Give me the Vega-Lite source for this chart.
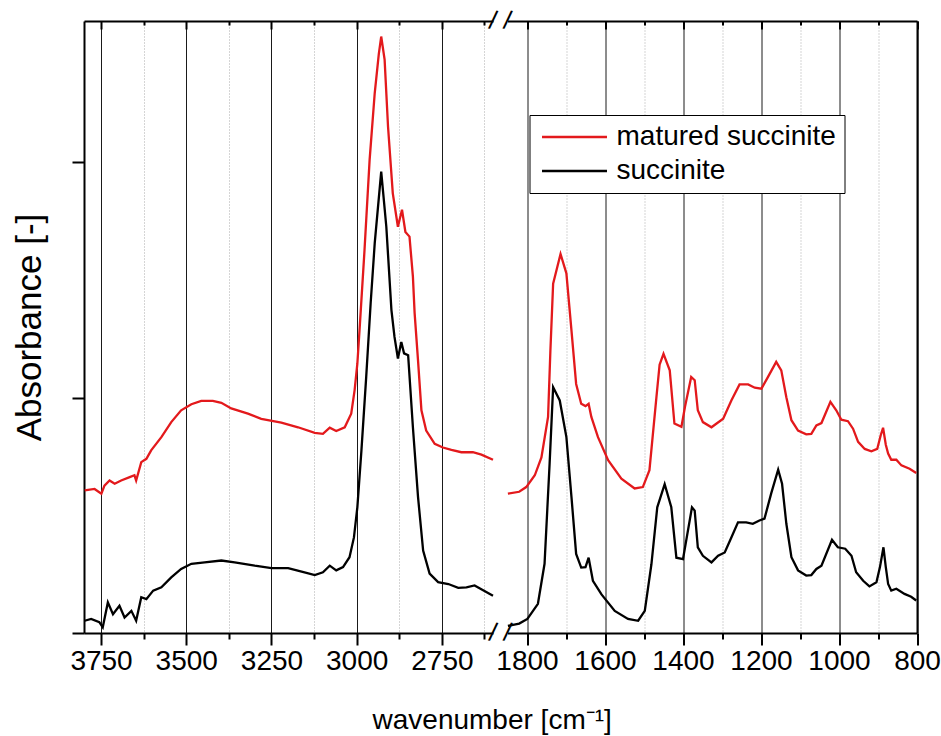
{
  "$schema": "https://vega.github.io/schema/vega-lite/v6.json",
  "background": "white",
  "padding": {"left": 12, "top": 7, "right": 20, "bottom": 5},
  "config": {
    "view": {"stroke": null},
    "font": "Liberation Sans",
    "axis": {"labelFont": "Liberation Sans", "titleFont": "Liberation Sans", "titleFontWeight": "normal", "labelColor": "black", "titleColor": "black", "domainColor": "black", "tickColor": "black"}
  },
  "title": {"text": "wavenumber [cm⁻¹]", "orient": "bottom", "anchor": "middle", "fontSize": 28, "font": "Liberation Sans", "fontWeight": "normal", "color": "black", "offset": 32, "dx": 16},
  "spacing": 14.5,
  "bounds": "flush",
  "resolve": {"legend": {"color": "independent"}},
  "datasets": {
    "spectra": [
      {"wavenumber": 3798, "absorbance": 0.303, "sample": "matured succinite"},
      {"wavenumber": 3769, "absorbance": 0.306, "sample": "matured succinite"},
      {"wavenumber": 3749, "absorbance": 0.296, "sample": "matured succinite"},
      {"wavenumber": 3740, "absorbance": 0.313, "sample": "matured succinite"},
      {"wavenumber": 3725, "absorbance": 0.324, "sample": "matured succinite"},
      {"wavenumber": 3710, "absorbance": 0.317, "sample": "matured succinite"},
      {"wavenumber": 3691, "absorbance": 0.324, "sample": "matured succinite"},
      {"wavenumber": 3666, "absorbance": 0.331, "sample": "matured succinite"},
      {"wavenumber": 3652, "absorbance": 0.335, "sample": "matured succinite"},
      {"wavenumber": 3647, "absorbance": 0.324, "sample": "matured succinite"},
      {"wavenumber": 3632, "absorbance": 0.363, "sample": "matured succinite"},
      {"wavenumber": 3617, "absorbance": 0.370, "sample": "matured succinite"},
      {"wavenumber": 3603, "absorbance": 0.388, "sample": "matured succinite"},
      {"wavenumber": 3573, "absorbance": 0.416, "sample": "matured succinite"},
      {"wavenumber": 3544, "absorbance": 0.448, "sample": "matured succinite"},
      {"wavenumber": 3515, "absorbance": 0.473, "sample": "matured succinite"},
      {"wavenumber": 3485, "absorbance": 0.486, "sample": "matured succinite"},
      {"wavenumber": 3456, "absorbance": 0.493, "sample": "matured succinite"},
      {"wavenumber": 3422, "absorbance": 0.493, "sample": "matured succinite"},
      {"wavenumber": 3397, "absorbance": 0.489, "sample": "matured succinite"},
      {"wavenumber": 3368, "absorbance": 0.477, "sample": "matured succinite"},
      {"wavenumber": 3319, "absorbance": 0.466, "sample": "matured succinite"},
      {"wavenumber": 3280, "absorbance": 0.455, "sample": "matured succinite"},
      {"wavenumber": 3221, "absorbance": 0.447, "sample": "matured succinite"},
      {"wavenumber": 3172, "absorbance": 0.437, "sample": "matured succinite"},
      {"wavenumber": 3123, "absorbance": 0.425, "sample": "matured succinite"},
      {"wavenumber": 3099, "absorbance": 0.423, "sample": "matured succinite"},
      {"wavenumber": 3079, "absorbance": 0.436, "sample": "matured succinite"},
      {"wavenumber": 3060, "absorbance": 0.429, "sample": "matured succinite"},
      {"wavenumber": 3035, "absorbance": 0.437, "sample": "matured succinite"},
      {"wavenumber": 3016, "absorbance": 0.466, "sample": "matured succinite"},
      {"wavenumber": 3006, "absorbance": 0.516, "sample": "matured succinite"},
      {"wavenumber": 2998, "absorbance": 0.572, "sample": "matured succinite"},
      {"wavenumber": 2991, "absorbance": 0.650, "sample": "matured succinite"},
      {"wavenumber": 2977, "absorbance": 0.813, "sample": "matured succinite"},
      {"wavenumber": 2962, "absorbance": 1.005, "sample": "matured succinite"},
      {"wavenumber": 2947, "absorbance": 1.147, "sample": "matured succinite"},
      {"wavenumber": 2935, "absorbance": 1.230, "sample": "matured succinite"},
      {"wavenumber": 2928, "absorbance": 1.267, "sample": "matured succinite"},
      {"wavenumber": 2918, "absorbance": 1.218, "sample": "matured succinite"},
      {"wavenumber": 2908, "absorbance": 1.076, "sample": "matured succinite"},
      {"wavenumber": 2894, "absorbance": 0.934, "sample": "matured succinite"},
      {"wavenumber": 2879, "absorbance": 0.863, "sample": "matured succinite"},
      {"wavenumber": 2867, "absorbance": 0.899, "sample": "matured succinite"},
      {"wavenumber": 2857, "absorbance": 0.852, "sample": "matured succinite"},
      {"wavenumber": 2845, "absorbance": 0.842, "sample": "matured succinite"},
      {"wavenumber": 2835, "absorbance": 0.757, "sample": "matured succinite"},
      {"wavenumber": 2830, "absorbance": 0.680, "sample": "matured succinite"},
      {"wavenumber": 2820, "absorbance": 0.579, "sample": "matured succinite"},
      {"wavenumber": 2810, "absorbance": 0.473, "sample": "matured succinite"},
      {"wavenumber": 2796, "absorbance": 0.430, "sample": "matured succinite"},
      {"wavenumber": 2771, "absorbance": 0.402, "sample": "matured succinite"},
      {"wavenumber": 2747, "absorbance": 0.394, "sample": "matured succinite"},
      {"wavenumber": 2722, "absorbance": 0.389, "sample": "matured succinite"},
      {"wavenumber": 2693, "absorbance": 0.384, "sample": "matured succinite"},
      {"wavenumber": 2659, "absorbance": 0.384, "sample": "matured succinite"},
      {"wavenumber": 2634, "absorbance": 0.379, "sample": "matured succinite"},
      {"wavenumber": 2600, "absorbance": 0.368, "sample": "matured succinite"},
      {"wavenumber": 3798, "absorbance": 0.026, "sample": "succinite"},
      {"wavenumber": 3779, "absorbance": 0.030, "sample": "succinite"},
      {"wavenumber": 3755, "absorbance": 0.023, "sample": "succinite"},
      {"wavenumber": 3745, "absorbance": 0.012, "sample": "succinite"},
      {"wavenumber": 3730, "absorbance": 0.065, "sample": "succinite"},
      {"wavenumber": 3715, "absorbance": 0.040, "sample": "succinite"},
      {"wavenumber": 3696, "absorbance": 0.058, "sample": "succinite"},
      {"wavenumber": 3681, "absorbance": 0.033, "sample": "succinite"},
      {"wavenumber": 3661, "absorbance": 0.047, "sample": "succinite"},
      {"wavenumber": 3647, "absorbance": 0.026, "sample": "succinite"},
      {"wavenumber": 3632, "absorbance": 0.076, "sample": "succinite"},
      {"wavenumber": 3617, "absorbance": 0.072, "sample": "succinite"},
      {"wavenumber": 3597, "absorbance": 0.090, "sample": "succinite"},
      {"wavenumber": 3573, "absorbance": 0.097, "sample": "succinite"},
      {"wavenumber": 3544, "absorbance": 0.118, "sample": "succinite"},
      {"wavenumber": 3515, "absorbance": 0.136, "sample": "succinite"},
      {"wavenumber": 3485, "absorbance": 0.147, "sample": "succinite"},
      {"wavenumber": 3446, "absorbance": 0.150, "sample": "succinite"},
      {"wavenumber": 3397, "absorbance": 0.154, "sample": "succinite"},
      {"wavenumber": 3358, "absorbance": 0.150, "sample": "succinite"},
      {"wavenumber": 3299, "absorbance": 0.143, "sample": "succinite"},
      {"wavenumber": 3250, "absorbance": 0.138, "sample": "succinite"},
      {"wavenumber": 3201, "absorbance": 0.138, "sample": "succinite"},
      {"wavenumber": 3153, "absorbance": 0.129, "sample": "succinite"},
      {"wavenumber": 3123, "absorbance": 0.123, "sample": "succinite"},
      {"wavenumber": 3099, "absorbance": 0.129, "sample": "succinite"},
      {"wavenumber": 3079, "absorbance": 0.143, "sample": "succinite"},
      {"wavenumber": 3060, "absorbance": 0.133, "sample": "succinite"},
      {"wavenumber": 3040, "absorbance": 0.140, "sample": "succinite"},
      {"wavenumber": 3021, "absorbance": 0.161, "sample": "succinite"},
      {"wavenumber": 3008, "absorbance": 0.203, "sample": "succinite"},
      {"wavenumber": 2998, "absorbance": 0.267, "sample": "succinite"},
      {"wavenumber": 2986, "absorbance": 0.388, "sample": "succinite"},
      {"wavenumber": 2972, "absorbance": 0.544, "sample": "succinite"},
      {"wavenumber": 2959, "absorbance": 0.700, "sample": "succinite"},
      {"wavenumber": 2947, "absorbance": 0.828, "sample": "succinite"},
      {"wavenumber": 2928, "absorbance": 0.980, "sample": "succinite"},
      {"wavenumber": 2913, "absorbance": 0.863, "sample": "succinite"},
      {"wavenumber": 2898, "absorbance": 0.686, "sample": "succinite"},
      {"wavenumber": 2889, "absorbance": 0.629, "sample": "succinite"},
      {"wavenumber": 2879, "absorbance": 0.583, "sample": "succinite"},
      {"wavenumber": 2869, "absorbance": 0.618, "sample": "succinite"},
      {"wavenumber": 2861, "absorbance": 0.594, "sample": "succinite"},
      {"wavenumber": 2849, "absorbance": 0.590, "sample": "succinite"},
      {"wavenumber": 2835, "absorbance": 0.437, "sample": "succinite"},
      {"wavenumber": 2820, "absorbance": 0.289, "sample": "succinite"},
      {"wavenumber": 2805, "absorbance": 0.175, "sample": "succinite"},
      {"wavenumber": 2786, "absorbance": 0.126, "sample": "succinite"},
      {"wavenumber": 2761, "absorbance": 0.108, "sample": "succinite"},
      {"wavenumber": 2731, "absorbance": 0.104, "sample": "succinite"},
      {"wavenumber": 2702, "absorbance": 0.096, "sample": "succinite"},
      {"wavenumber": 2678, "absorbance": 0.097, "sample": "succinite"},
      {"wavenumber": 2654, "absorbance": 0.101, "sample": "succinite"},
      {"wavenumber": 2629, "absorbance": 0.091, "sample": "succinite"},
      {"wavenumber": 2600, "absorbance": 0.079, "sample": "succinite"},
      {"wavenumber": 1849, "absorbance": 0.296, "sample": "matured succinite"},
      {"wavenumber": 1820, "absorbance": 0.300, "sample": "matured succinite"},
      {"wavenumber": 1802, "absorbance": 0.310, "sample": "matured succinite"},
      {"wavenumber": 1780, "absorbance": 0.335, "sample": "matured succinite"},
      {"wavenumber": 1763, "absorbance": 0.373, "sample": "matured succinite"},
      {"wavenumber": 1746, "absorbance": 0.459, "sample": "matured succinite"},
      {"wavenumber": 1740, "absorbance": 0.600, "sample": "matured succinite"},
      {"wavenumber": 1733, "absorbance": 0.742, "sample": "matured succinite"},
      {"wavenumber": 1714, "absorbance": 0.805, "sample": "matured succinite"},
      {"wavenumber": 1699, "absorbance": 0.764, "sample": "matured succinite"},
      {"wavenumber": 1686, "absorbance": 0.643, "sample": "matured succinite"},
      {"wavenumber": 1674, "absorbance": 0.529, "sample": "matured succinite"},
      {"wavenumber": 1661, "absorbance": 0.487, "sample": "matured succinite"},
      {"wavenumber": 1650, "absorbance": 0.482, "sample": "matured succinite"},
      {"wavenumber": 1642, "absorbance": 0.487, "sample": "matured succinite"},
      {"wavenumber": 1635, "absorbance": 0.459, "sample": "matured succinite"},
      {"wavenumber": 1618, "absorbance": 0.416, "sample": "matured succinite"},
      {"wavenumber": 1592, "absorbance": 0.367, "sample": "matured succinite"},
      {"wavenumber": 1558, "absorbance": 0.328, "sample": "matured succinite"},
      {"wavenumber": 1524, "absorbance": 0.307, "sample": "matured succinite"},
      {"wavenumber": 1503, "absorbance": 0.310, "sample": "matured succinite"},
      {"wavenumber": 1486, "absorbance": 0.346, "sample": "matured succinite"},
      {"wavenumber": 1468, "absorbance": 0.502, "sample": "matured succinite"},
      {"wavenumber": 1460, "absorbance": 0.570, "sample": "matured succinite"},
      {"wavenumber": 1450, "absorbance": 0.593, "sample": "matured succinite"},
      {"wavenumber": 1434, "absorbance": 0.558, "sample": "matured succinite"},
      {"wavenumber": 1422, "absorbance": 0.445, "sample": "matured succinite"},
      {"wavenumber": 1404, "absorbance": 0.438, "sample": "matured succinite"},
      {"wavenumber": 1395, "absorbance": 0.480, "sample": "matured succinite"},
      {"wavenumber": 1379, "absorbance": 0.544, "sample": "matured succinite"},
      {"wavenumber": 1370, "absorbance": 0.537, "sample": "matured succinite"},
      {"wavenumber": 1362, "absorbance": 0.473, "sample": "matured succinite"},
      {"wavenumber": 1349, "absorbance": 0.448, "sample": "matured succinite"},
      {"wavenumber": 1327, "absorbance": 0.437, "sample": "matured succinite"},
      {"wavenumber": 1297, "absorbance": 0.455, "sample": "matured succinite"},
      {"wavenumber": 1276, "absorbance": 0.494, "sample": "matured succinite"},
      {"wavenumber": 1255, "absorbance": 0.528, "sample": "matured succinite"},
      {"wavenumber": 1233, "absorbance": 0.528, "sample": "matured succinite"},
      {"wavenumber": 1216, "absorbance": 0.521, "sample": "matured succinite"},
      {"wavenumber": 1199, "absorbance": 0.519, "sample": "matured succinite"},
      {"wavenumber": 1182, "absorbance": 0.544, "sample": "matured succinite"},
      {"wavenumber": 1161, "absorbance": 0.576, "sample": "matured succinite"},
      {"wavenumber": 1148, "absorbance": 0.558, "sample": "matured succinite"},
      {"wavenumber": 1135, "absorbance": 0.501, "sample": "matured succinite"},
      {"wavenumber": 1122, "absorbance": 0.452, "sample": "matured succinite"},
      {"wavenumber": 1105, "absorbance": 0.430, "sample": "matured succinite"},
      {"wavenumber": 1084, "absorbance": 0.422, "sample": "matured succinite"},
      {"wavenumber": 1071, "absorbance": 0.423, "sample": "matured succinite"},
      {"wavenumber": 1058, "absorbance": 0.441, "sample": "matured succinite"},
      {"wavenumber": 1045, "absorbance": 0.446, "sample": "matured succinite"},
      {"wavenumber": 1022, "absorbance": 0.491, "sample": "matured succinite"},
      {"wavenumber": 1007, "absorbance": 0.473, "sample": "matured succinite"},
      {"wavenumber": 994, "absorbance": 0.453, "sample": "matured succinite"},
      {"wavenumber": 977, "absorbance": 0.450, "sample": "matured succinite"},
      {"wavenumber": 964, "absorbance": 0.434, "sample": "matured succinite"},
      {"wavenumber": 951, "absorbance": 0.406, "sample": "matured succinite"},
      {"wavenumber": 934, "absorbance": 0.391, "sample": "matured succinite"},
      {"wavenumber": 917, "absorbance": 0.386, "sample": "matured succinite"},
      {"wavenumber": 902, "absorbance": 0.391, "sample": "matured succinite"},
      {"wavenumber": 893, "absorbance": 0.420, "sample": "matured succinite"},
      {"wavenumber": 887, "absorbance": 0.436, "sample": "matured succinite"},
      {"wavenumber": 880, "absorbance": 0.400, "sample": "matured succinite"},
      {"wavenumber": 874, "absorbance": 0.381, "sample": "matured succinite"},
      {"wavenumber": 866, "absorbance": 0.368, "sample": "matured succinite"},
      {"wavenumber": 853, "absorbance": 0.368, "sample": "matured succinite"},
      {"wavenumber": 840, "absorbance": 0.356, "sample": "matured succinite"},
      {"wavenumber": 819, "absorbance": 0.349, "sample": "matured succinite"},
      {"wavenumber": 802, "absorbance": 0.340, "sample": "matured succinite"},
      {"wavenumber": 1849, "absorbance": 0.015, "sample": "succinite"},
      {"wavenumber": 1820, "absorbance": 0.020, "sample": "succinite"},
      {"wavenumber": 1799, "absorbance": 0.030, "sample": "succinite"},
      {"wavenumber": 1772, "absorbance": 0.062, "sample": "succinite"},
      {"wavenumber": 1755, "absorbance": 0.147, "sample": "succinite"},
      {"wavenumber": 1742, "absorbance": 0.360, "sample": "succinite"},
      {"wavenumber": 1733, "absorbance": 0.522, "sample": "succinite"},
      {"wavenumber": 1716, "absorbance": 0.494, "sample": "succinite"},
      {"wavenumber": 1699, "absorbance": 0.416, "sample": "succinite"},
      {"wavenumber": 1686, "absorbance": 0.289, "sample": "succinite"},
      {"wavenumber": 1674, "absorbance": 0.168, "sample": "succinite"},
      {"wavenumber": 1661, "absorbance": 0.139, "sample": "succinite"},
      {"wavenumber": 1650, "absorbance": 0.140, "sample": "succinite"},
      {"wavenumber": 1642, "absorbance": 0.160, "sample": "succinite"},
      {"wavenumber": 1631, "absorbance": 0.111, "sample": "succinite"},
      {"wavenumber": 1609, "absorbance": 0.082, "sample": "succinite"},
      {"wavenumber": 1575, "absorbance": 0.047, "sample": "succinite"},
      {"wavenumber": 1541, "absorbance": 0.030, "sample": "succinite"},
      {"wavenumber": 1515, "absorbance": 0.026, "sample": "succinite"},
      {"wavenumber": 1498, "absorbance": 0.047, "sample": "succinite"},
      {"wavenumber": 1481, "absorbance": 0.146, "sample": "succinite"},
      {"wavenumber": 1466, "absorbance": 0.267, "sample": "succinite"},
      {"wavenumber": 1447, "absorbance": 0.316, "sample": "succinite"},
      {"wavenumber": 1430, "absorbance": 0.267, "sample": "succinite"},
      {"wavenumber": 1417, "absorbance": 0.160, "sample": "succinite"},
      {"wavenumber": 1400, "absorbance": 0.157, "sample": "succinite"},
      {"wavenumber": 1377, "absorbance": 0.267, "sample": "succinite"},
      {"wavenumber": 1370, "absorbance": 0.260, "sample": "succinite"},
      {"wavenumber": 1362, "absorbance": 0.182, "sample": "succinite"},
      {"wavenumber": 1349, "absorbance": 0.164, "sample": "succinite"},
      {"wavenumber": 1327, "absorbance": 0.150, "sample": "succinite"},
      {"wavenumber": 1310, "absorbance": 0.164, "sample": "succinite"},
      {"wavenumber": 1293, "absorbance": 0.171, "sample": "succinite"},
      {"wavenumber": 1276, "absorbance": 0.203, "sample": "succinite"},
      {"wavenumber": 1259, "absorbance": 0.235, "sample": "succinite"},
      {"wavenumber": 1238, "absorbance": 0.235, "sample": "succinite"},
      {"wavenumber": 1221, "absorbance": 0.232, "sample": "succinite"},
      {"wavenumber": 1204, "absorbance": 0.239, "sample": "succinite"},
      {"wavenumber": 1191, "absorbance": 0.243, "sample": "succinite"},
      {"wavenumber": 1174, "absorbance": 0.296, "sample": "succinite"},
      {"wavenumber": 1156, "absorbance": 0.347, "sample": "succinite"},
      {"wavenumber": 1146, "absorbance": 0.317, "sample": "succinite"},
      {"wavenumber": 1135, "absorbance": 0.232, "sample": "succinite"},
      {"wavenumber": 1122, "absorbance": 0.161, "sample": "succinite"},
      {"wavenumber": 1105, "absorbance": 0.133, "sample": "succinite"},
      {"wavenumber": 1084, "absorbance": 0.122, "sample": "succinite"},
      {"wavenumber": 1071, "absorbance": 0.123, "sample": "succinite"},
      {"wavenumber": 1058, "absorbance": 0.136, "sample": "succinite"},
      {"wavenumber": 1045, "absorbance": 0.143, "sample": "succinite"},
      {"wavenumber": 1018, "absorbance": 0.198, "sample": "succinite"},
      {"wavenumber": 1003, "absorbance": 0.182, "sample": "succinite"},
      {"wavenumber": 984, "absorbance": 0.179, "sample": "succinite"},
      {"wavenumber": 968, "absorbance": 0.164, "sample": "succinite"},
      {"wavenumber": 956, "absorbance": 0.129, "sample": "succinite"},
      {"wavenumber": 938, "absorbance": 0.111, "sample": "succinite"},
      {"wavenumber": 922, "absorbance": 0.099, "sample": "succinite"},
      {"wavenumber": 904, "absorbance": 0.108, "sample": "succinite"},
      {"wavenumber": 895, "absorbance": 0.140, "sample": "succinite"},
      {"wavenumber": 886, "absorbance": 0.182, "sample": "succinite"},
      {"wavenumber": 880, "absorbance": 0.140, "sample": "succinite"},
      {"wavenumber": 874, "absorbance": 0.104, "sample": "succinite"},
      {"wavenumber": 866, "absorbance": 0.090, "sample": "succinite"},
      {"wavenumber": 853, "absorbance": 0.094, "sample": "succinite"},
      {"wavenumber": 832, "absorbance": 0.083, "sample": "succinite"},
      {"wavenumber": 815, "absorbance": 0.077, "sample": "succinite"},
      {"wavenumber": 802, "absorbance": 0.069, "sample": "succinite"}
    ],
    "breaksLeft": [{"wavenumber": 2600, "absorbance": 0}, {"wavenumber": 2600, "absorbance": 1.3}],
    "breaksRight": [{"wavenumber": 1850, "absorbance": 0}, {"wavenumber": 1850, "absorbance": 1.3}]
  },
  "hconcat": [
    {
      "width": 409,
      "height": 612,
      "resolve": {"axis": {"x": "independent"}},
      "layer": [
        {
          "data": {"name": "spectra"},
          "transform": [{"filter": "datum.wavenumber >= 2600"}],
          "mark": {"type": "line", "strokeWidth": 2.3},
          "encoding": {
            "x": {
              "field": "wavenumber", "type": "quantitative",
              "scale": {"domain": [3800, 2600], "nice": false, "zero": false},
              "axis": {
                "orient": "bottom", "title": null,
                "values": [3750, 3625, 3500, 3375, 3250, 3125, 3000, 2875, 2750, 2625],
                "labelExpr": "datum.value % 250 === 0 ? '' + datum.value : ''",
                "labelFontSize": 28, "labelPadding": 2, "labelFlush": false, "labelOverlap": false,
                "domainWidth": 2, "tickWidth": 2,
                "tickSize": {"condition": {"test": "datum.value % 250 === 0", "value": 12}, "value": 6},
                "grid": true,
                "gridColor": {"condition": {"test": "datum.value % 250 === 0", "value": "#1a1a1a"}, "value": "#aaaaaa"},
                "gridDash": {"condition": {"test": "datum.value % 250 === 0", "value": []}, "value": [1, 2]},
                "gridWidth": 1
              }
            },
            "y": {
              "field": "absorbance", "type": "quantitative",
              "scale": {"domain": [0, 1.3], "nice": false, "zero": false},
              "axis": {
                "orient": "left", "title": "Absorbance [-]", "titleFontSize": 35, "titlePadding": 24,
                "values": [0, 0.5, 1.0], "labels": false, "tickSize": 12, "tickWidth": 2,
                "domainWidth": 2, "grid": false
              }
            },
            "color": {
              "field": "sample", "type": "nominal",
              "scale": {"domain": ["matured succinite", "succinite"], "range": ["#e3191c", "#000000"]},
              "legend": null
            }
          }
        },
        {
          "data": {"name": "breaksLeft"},
          "mark": {"type": "text", "text": "/", "fontSize": 26, "font": "Liberation Sans", "color": "black", "angle": 10, "align": "center", "baseline": "middle"},
          "encoding": {
            "x": {
              "field": "wavenumber", "type": "quantitative",
              "axis": {
                "orient": "top", "title": null, "labels": false, "grid": false,
                "values": [3750, 3625, 3500, 3375, 3250, 3125, 3000, 2875, 2750, 2625],
                "domainWidth": 2, "tickWidth": 2,
                "tickSize": {"condition": {"test": "datum.value % 250 === 0", "value": -8}, "value": -4}
              }
            },
            "y": {
              "field": "absorbance", "type": "quantitative",
              "axis": {
                "orient": "left", "title": "Absorbance [-]", "titleFontSize": 35, "titlePadding": 24,
                "values": [0, 0.5, 1.0], "labels": false, "tickSize": 12, "tickWidth": 2,
                "domainWidth": 2, "grid": false
              }
            }
          }
        }
      ]
    },
    {
      "width": 409.5,
      "height": 612,
      "resolve": {"axis": {"x": "independent"}},
      "layer": [
        {
          "data": {"name": "spectra"},
          "transform": [{"filter": "datum.wavenumber <= 1850"}],
          "mark": {"type": "line", "strokeWidth": 2.3},
          "encoding": {
            "x": {
              "field": "wavenumber", "type": "quantitative",
              "scale": {"domain": [1850, 800], "nice": false, "zero": false},
              "axis": {
                "orient": "bottom", "title": null,
                "values": [1800, 1700, 1600, 1500, 1400, 1300, 1200, 1100, 1000, 900, 800],
                "labelExpr": "datum.value % 200 === 0 ? '' + datum.value : ''",
                "labelFontSize": 28, "labelPadding": 2, "labelFlush": false, "labelOverlap": false,
                "domainWidth": 2, "tickWidth": 2,
                "tickSize": {"condition": {"test": "datum.value % 200 === 0", "value": 12}, "value": 6},
                "grid": true,
                "gridColor": {"condition": {"test": "datum.value % 200 === 0", "value": "#1a1a1a"}, "value": "#aaaaaa"},
                "gridDash": {"condition": {"test": "datum.value % 200 === 0", "value": []}, "value": [1, 2]},
                "gridWidth": 1
              }
            },
            "y": {
              "field": "absorbance", "type": "quantitative",
              "scale": {"domain": [0, 1.3], "nice": false, "zero": false},
              "axis": {
                "orient": "right", "title": null, "labels": false, "ticks": false,
                "domainWidth": 2, "grid": false
              }
            },
            "color": {
              "field": "sample", "type": "nominal",
              "scale": {"domain": ["matured succinite", "succinite"], "range": ["#e3191c", "#000000"]},
              "legend": {
                "title": null, "orient": "none", "legendX": 22, "legendY": 94,
                "direction": "vertical",
                "strokeColor": "black", "padding": 8, "fillColor": "white",
                "symbolType": "M-3,0H3", "symbolSize": 469, "symbolStrokeWidth": 2.5, "symbolOffset": 23,
                "labelFontSize": 28, "labelFont": "Liberation Sans", "labelColor": "black",
                "labelOffset": 28, "labelLimit": 400, "rowPadding": 6
              }
            }
          }
        },
        {
          "data": {"name": "breaksRight"},
          "mark": {"type": "text", "text": "/", "fontSize": 26, "font": "Liberation Sans", "color": "black", "angle": 10, "align": "center", "baseline": "middle"},
          "encoding": {
            "x": {
              "field": "wavenumber", "type": "quantitative",
              "axis": {
                "orient": "top", "title": null, "labels": false, "grid": false,
                "values": [1800, 1700, 1600, 1500, 1400, 1300, 1200, 1100, 1000, 900, 800],
                "domainWidth": 2, "tickWidth": 2,
                "tickSize": {"condition": {"test": "datum.value % 200 === 0", "value": -8}, "value": -4}
              }
            },
            "y": {
              "field": "absorbance", "type": "quantitative",
              "axis": {
                "orient": "right", "title": null, "labels": false, "ticks": false,
                "domainWidth": 2, "grid": false
              }
            }
          }
        }
      ]
    }
  ]
}
